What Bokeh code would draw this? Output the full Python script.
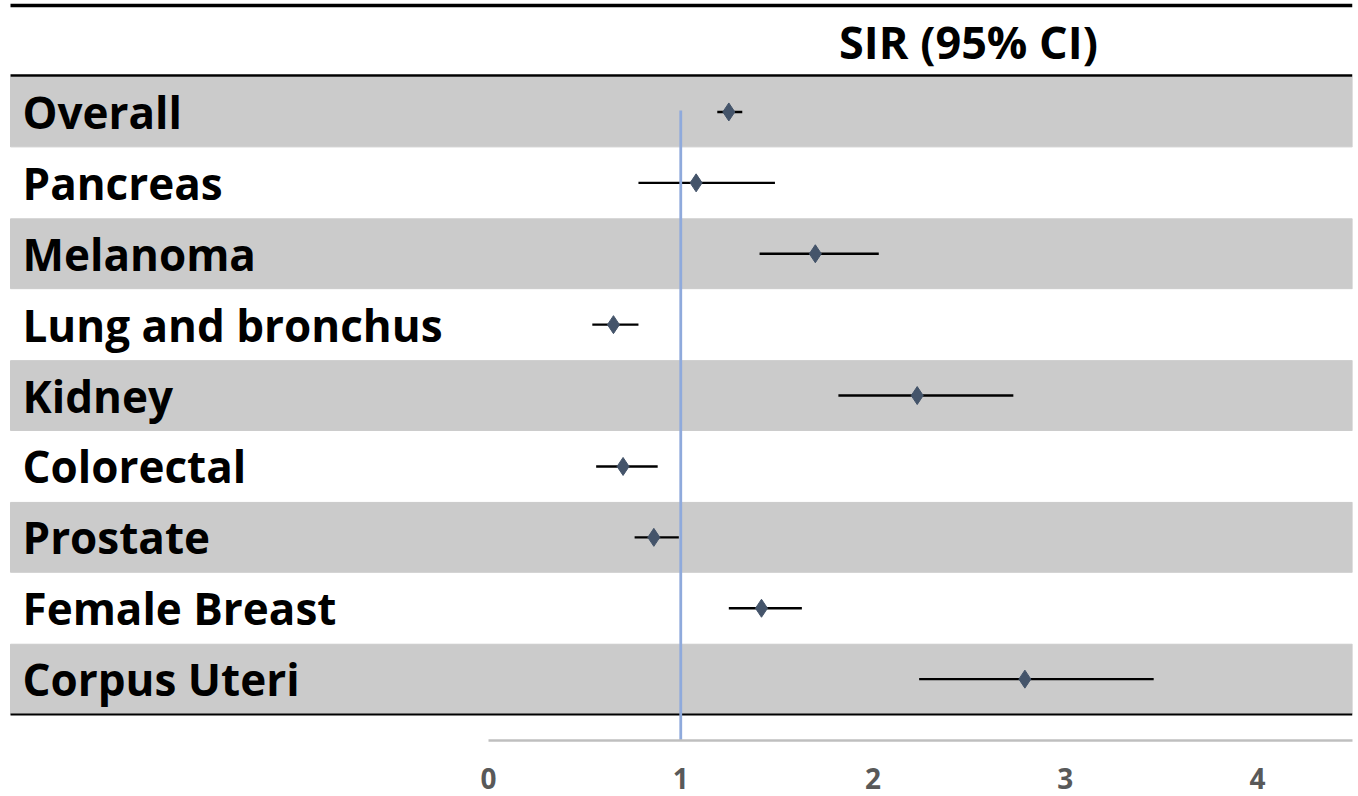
from bokeh.plotting import figure
from bokeh.models import Range1d, Label, FixedTicker
from bokeh.core.properties import value
from bokeh.embed import file_html
from bokeh.resources import INLINE

# ---- data ----
categories = ["Overall", "Pancreas", "Melanoma", "Lung and bronchus", "Kidney",
              "Colorectal", "Prostate", "Female Breast", "Corpus Uteri"]
sir = [1.25, 1.08, 1.70, 0.65, 2.23, 0.70, 0.86, 1.42, 2.79]
ci_low = [1.19, 0.78, 1.41, 0.54, 1.82, 0.56, 0.76, 1.25, 2.24]
ci_high = [1.32, 1.49, 2.03, 0.78, 2.73, 0.88, 0.99, 1.63, 3.46]
x_ticks = [0, 1, 2, 3, 4]
header = "SIR (95% CI)"
ref_value = 1

# ---- geometry (pixels in page) ----
W, H = 1358, 796
FRAME_W = 1352
FRAME_H = 740
X0_PX = 488.0      # pixel of x=0
PX_PER = 192.25    # pixels per unit
ROW_PX = 70.9
TOP_PX = 76.0      # top of first row band
x_start = -X0_PX / PX_PER
x_end = (FRAME_W - X0_PX) / PX_PER
y_top = -0.5 - TOP_PX / ROW_PX
y_bot = y_top + FRAME_H / ROW_PX

def px_x(px):
    return (px - X0_PX) / PX_PER

def px_y(py):
    return y_top + py / ROW_PX

rows = list(range(len(categories)))
grey_rows = [r for r in rows if r % 2 == 0]

p = figure(width=W, height=H,
           x_range=Range1d(x_start, x_end), y_range=Range1d(y_bot, y_top),
           output_backend="svg", toolbar_location=None, y_axis_location=None,
           min_border_left=0, min_border_right=W - FRAME_W, min_border_top=0,
           min_border_bottom=H - FRAME_H)
p.outline_line_color = None
p.grid.visible = False
p.background_fill_color = "white"
p.border_fill_color = "white"

# bands
p.hbar(y=grey_rows, left=px_x(10), right=x_end, height=0.985, color="#CBCBCB")

# horizontal rules
p.segment(x0=[px_x(10)] * 3, x1=[x_end] * 3,
          y0=[px_y(5), px_y(75), len(categories) - 0.5],
          y1=[px_y(5), px_y(75), len(categories) - 0.5],
          line_color="black", line_width=[3.5, 2.5, 2])

# error bars
p.segment(x0=ci_low, x1=ci_high, y0=rows, y1=rows, line_color="black", line_width=2.4)

# reference line
p.segment(x0=[ref_value], x1=[ref_value], y0=[px_y(110)], y1=[y_bot],
          line_color="#8FAADC", line_width=2.8)

# points
p.scatter(x=sir, y=rows, marker="diamond", size=18, fill_color="#44546A", line_color="#44546A")

# labels
p.text(x=[px_x(22)] * len(categories), y=rows, text=categories,
       text_font=value("Open Sans"), text_font_style="bold", text_font_size=value("44px"),
       text_baseline="alphabetic", text_align="left", text_color="black", y_offset=0)

p.add_layout(Label(x=px_x(968), y=px_y(41), text=header,
                   text_align="center", text_baseline="alphabetic", text_font="Open Sans",
                   text_font_style="bold", text_font_size="45px", text_color="black"))

# x axis
ax = p.xaxis[0]
ax.ticker = FixedTicker(ticks=x_ticks)
ax.bounds = (0, x_end)
ax.axis_line_color = "#BFBFBF"
ax.axis_line_width = 2.5
ax.major_tick_line_color = None
ax.minor_tick_line_color = None
ax.major_label_text_font = "Open Sans"
ax.major_label_text_font_style = "bold"
ax.major_label_text_font_size = "28px"
ax.major_label_text_color = "#595959"
ax.major_label_standoff = 21

open("out.html", "w").write(file_html(p, INLINE))
